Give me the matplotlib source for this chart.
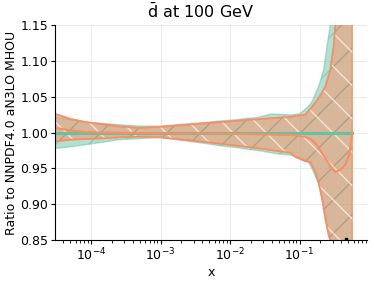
import numpy as np
import matplotlib
matplotlib.use("Agg")
import matplotlib.pyplot as plt
from matplotlib.ticker import FixedLocator, LogLocator, NullFormatter

# ---- data (ratio to NNPDF4.0 aN3LO MHOU) ----
ref_x = [2.5e-5, 3.1e-5, 5.0e-5, 8.3e-5, 1.6e-4, 2.5e-4, 5.0e-4, 1.0e-3, 2.0e-3,
         4.2e-3, 7.9e-3, 1.26e-2, 1.78e-2, 2.5e-2, 3.8e-2, 5.0e-2, 7.4e-2, 0.1,
         0.109, 0.135, 0.151, 0.188, 0.222, 0.249, 0.277, 0.316, 0.398, 0.575]
ref_up = [1.023, 1.022, 1.018, 1.0145, 1.0125, 1.011, 1.009, 1.009, 1.0115,
          1.014, 1.0165, 1.018, 1.0198, 1.021, 1.0258, 1.0255, 1.0245, 1.026,
          1.029, 1.037, 1.043, 1.064, 1.087, 1.12, 1.15, 1.22, 1.35, 1.6]
ref_lo = [0.976, 0.978, 0.980, 0.983, 0.987, 0.990, 0.9915, 0.993, 0.989,
          0.985, 0.981, 0.979, 0.9766, 0.975, 0.972, 0.970, 0.9686, 0.965,
          0.963, 0.958, 0.950, 0.928, 0.900, 0.870, 0.850, 0.80, 0.70, 0.50]
ref_c = [1.0] * len(ref_x)

alt_x = [2.5e-5, 3.1e-5, 5.0e-5, 8.3e-5, 1.6e-4, 2.5e-4, 5.0e-4, 1.0e-3, 4.2e-3,
         1.76e-2, 7.4e-2, 8.7e-2, 0.121, 0.143, 0.169, 0.188, 0.211, 0.235,
         0.263, 0.277, 0.31, 0.327, 0.386, 0.456, 0.521, 0.556, 0.575]
alt_up = [1.028, 1.0258, 1.019, 1.0147, 1.011, 1.0086, 1.0065, 1.008, 1.0128,
          1.0174, 1.022, 1.023, 1.025, 1.033, 1.042, 1.048, 1.056, 1.064,
          1.08, 1.087, 1.12, 1.15, 1.25, 1.35, 1.45, 1.5, 1.52]
alt_lo = [0.986, 0.9877, 0.990, 0.991, 0.992, 0.9933, 0.9942, 0.9933, 0.987,
          0.980, 0.9718, 0.966, 0.960, 0.959, 0.945, 0.931, 0.908, 0.880,
          0.857, 0.850, 0.83, 0.82, 0.75, 0.65, 0.55, 0.50, 0.48]
alt_c = [1.007, 1.0063, 1.003, 1.0007, 1.0, 0.9995, 0.9993, 0.999, 0.9985,
         0.998, 0.9965, 0.996, 0.994, 0.991, 0.985, 0.979, 0.971, 0.964,
         0.957, 0.953, 0.947, 0.945, 0.948, 0.955, 0.969, 0.99, 1.0]

marker_x = [0.46]
marker_y = [0.852]

title = r"$\bar{\mathrm{d}}$ at 100 GeV"
ylabel = "Ratio to NNPDF4.0 aN3LO MHOU"
xlabel = "x"
yticks = [0.85, 0.90, 0.95, 1.00, 1.05, 1.10, 1.15]
xticks = [1e-4, 1e-3, 1e-2, 1e-1]

green = "#66c2a5"
orange = "#fc8d62"

plt.rcParams['font.family'] = ['DejaVu Sans']

fig = plt.figure(figsize=(3.74, 2.82), dpi=100)
ax = fig.add_axes([0.148, 0.149, 0.833, 0.762])

plt.rcParams['hatch.linewidth'] = 1.0
ax.fill_between(ref_x, ref_lo, ref_up, color=green, alpha=0.5, hatch='/',
                edgecolor=green, linewidth=1.0, zorder=1)
ax.plot(ref_x, ref_c, color=green, lw=2.2, zorder=2)

ax.fill_between(alt_x, alt_lo, alt_up, facecolor=orange, alpha=0.5,
                edgecolor=orange, linewidth=1.2, zorder=1)
plt.rcParams['hatch.linewidth'] = 0.7
ax.fill_between(alt_x, alt_lo, alt_up, facecolor='none', hatch='/',
                edgecolor='#7a7a60', linewidth=0, alpha=0.35, zorder=1.05)
plt.rcParams['hatch.linewidth'] = 1.0
ax.fill_between(alt_x, alt_lo, alt_up, facecolor='none', hatch='\\',
                edgecolor='#fde6da', linewidth=0, alpha=0.9, zorder=1.1)
ax.plot(alt_x, alt_up, color=orange, lw=1.2, zorder=2)
ax.plot(alt_x, alt_lo, color=orange, lw=1.2, zorder=2)
ax.plot(alt_x, alt_c, color=orange, lw=1.5, zorder=2)

ax.plot(marker_x, marker_y, 's', color='black', ms=2, zorder=3)

ax.set_xscale('log')
ax.set_xlim(3.06e-5, 0.933)
ax.set_ylim(0.85, 1.15)
ax.yaxis.set_major_locator(FixedLocator(yticks))
ax.set_yticklabels([f"{v:.2f}" for v in yticks])
ax.xaxis.set_major_locator(FixedLocator(xticks))
ax.xaxis.set_minor_locator(LogLocator(base=10, subs=np.arange(2, 10), numticks=20))
ax.xaxis.set_minor_formatter(NullFormatter())

ax.grid(True, which='major', color='#e8e8e8', lw=0.6)
ax.set_axisbelow(True)
for s in ['top', 'right']:
    ax.spines[s].set_visible(False)
ax.tick_params(labelsize=9, pad=2, length=3)
ax.tick_params(which='minor', length=2)

ax.set_title(title, fontsize=11.5, x=0.465, pad=5)
ax.set_ylabel(ylabel, fontsize=9, labelpad=1.5)
ax.set_xlabel(xlabel, fontsize=9, labelpad=2)

fig.savefig("out.png", dpi=100)
